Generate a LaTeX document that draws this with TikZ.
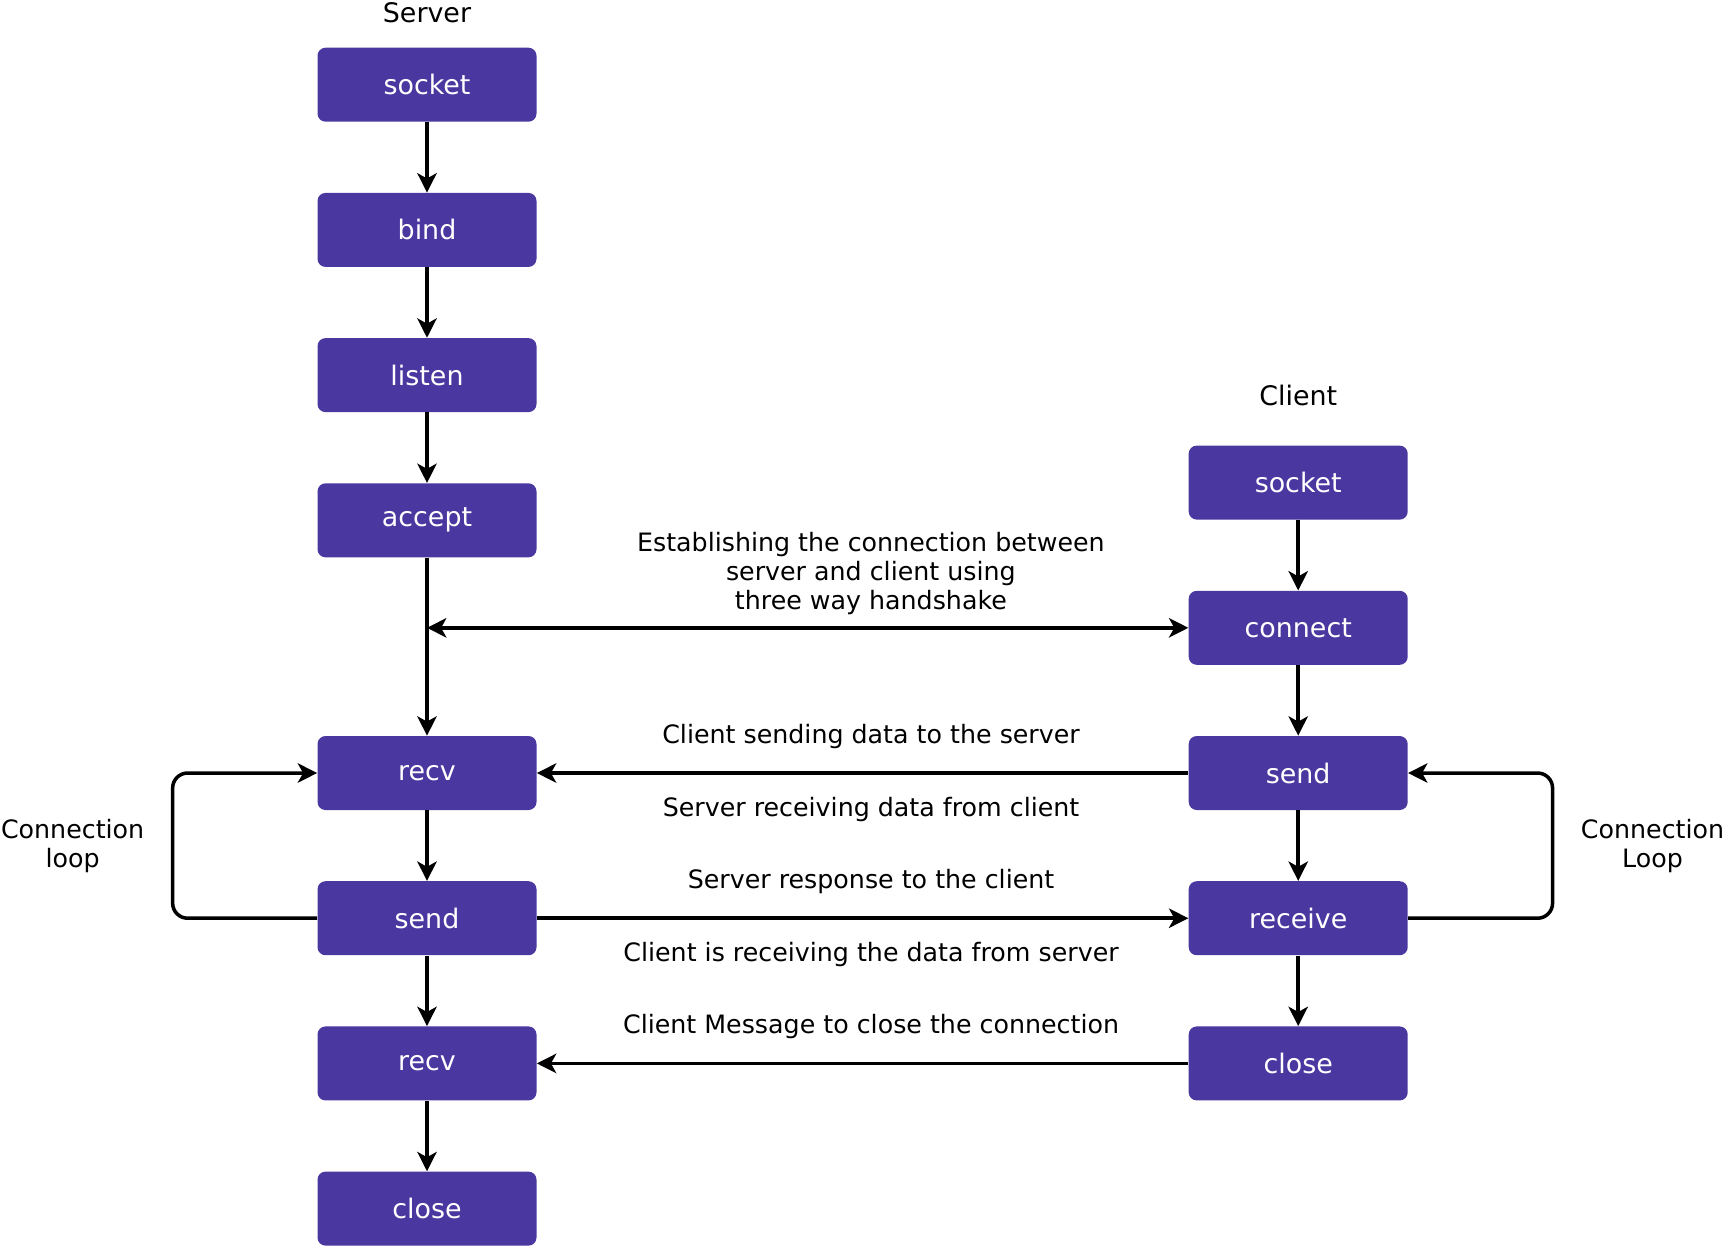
\documentclass[tikz,border=0pt]{standalone}
\usepackage{fontspec}
\setmainfont{DejaVu Sans}
\usetikzlibrary{positioning, arrows.meta, calc}
\definecolor{boxpurple}{RGB}{74,56,160}
\tikzset{
    base/.style={draw=none, fill=boxpurple, rectangle, rounded corners=0.16cm, minimum width=4.38cm, minimum height=1.48cm, inner sep=2pt, align=center, text=white, font=\fontsize{15.3}{18}\selectfont},
    head/.style={inner sep=0pt, font=\fontsize{15.3}{18}\selectfont},
    lbl/.style={inner sep=0pt, align=center, font=\fontsize{14.4}{16.4}\selectfont},
    arrow/.style={line width=2pt, -{Stealth[length=11pt, width=11pt, inset=3pt]}},
    biarrow/.style={line width=2pt, {Stealth[length=11pt, width=11pt, inset=3pt]}-{Stealth[length=11pt, width=11pt, inset=3pt]}}
}

\begin{document}
\begin{tikzpicture}[node distance=1.41cm]
\useasboundingbox (0,0) rectangle (34.5,-24.94);
% server side
\node[base] (ssocket) at (8.54,-1.694) {socket};
\node[base, below=of ssocket] (sbind) {bind};
\node[base, below=of sbind] (slisten) {listen};
\node[base, below=of slisten] (saccept) {accept};
\node[base, below=3.56cm of saccept] (srecv) {recv};
\node[base, below=of srecv] (ssend) {send};
\node[base, below=of ssend] (srecvtwo) {recv};
\node[base, below=of srecvtwo] (sclose) {close};
\node[head, above=0.49cm of ssocket] (srvlabel) {Server};
% client side
\node[base, right=13.03cm of srecv] (csend) {send};
\node[base, above=of csend] (cconnect) {connect};
\node[base, above=of cconnect] (csocket) {socket};
\node[base, below=of csend] (creceive) {receive};
\node[base, below=of creceive] (cclose) {close};
\node[head, above=0.78cm of csocket] (clilabel) {Client};
% vertical flow
\draw[arrow] (ssocket) -- (sbind);
\draw[arrow] (sbind) -- (slisten);
\draw[arrow] (slisten) -- (saccept);
\draw[arrow] (saccept) -- (srecv);
\draw[arrow] (srecv) -- (ssend);
\draw[arrow] (ssend) -- (srecvtwo);
\draw[arrow] (srecvtwo) -- (sclose);
\draw[arrow] (csocket) -- (cconnect);
\draw[arrow] (cconnect) -- (csend);
\draw[arrow] (csend) -- (creceive);
\draw[arrow] (creceive) -- (cclose);
% messages between server and client
\coordinate (hshake) at (saccept.south |- cconnect.west);
\draw[biarrow] (hshake) -- node[lbl, pos=0.583, yshift=1.08cm] (hslabel) {Establishing the connection between\\server and client using\\three way handshake} (cconnect.west);
\draw[arrow] (csend) -- node[lbl, pos=0.487, yshift=0.73cm] (sendlabel) {Client sending data to the server}
    node[lbl, pos=0.487, yshift=-0.73cm] (recvlabel) {Server receiving data from client} (srecv);
\draw[arrow] (ssend) -- node[lbl, pos=0.513, yshift=0.73cm] (resplabel) {Server response to the client}
    node[lbl, pos=0.513, yshift=-0.73cm] (gotlabel) {Client is receiving the data from server} (creceive);
\draw[arrow] (cclose) -- node[lbl, pos=0.487, yshift=0.73cm] (closelabel) {Client Message to close the connection} (srecvtwo);
% connection loops
\draw[arrow, rounded corners=0.3cm] (ssend.west) -- ++(-2.89,0) |- (srecv.west);
\draw[arrow, rounded corners=0.3cm] (creceive.east) -- ++(2.89,0) |- (csend.east);
\node[lbl] (lloop) at ($(srecv.west)!0.5!(ssend.west)+(-4.89,0)$) {Connection\\loop};
\node[lbl] (rloop) at ($(csend.east)!0.5!(creceive.east)+(4.89,0)$) {Connection\\Loop};
\end{tikzpicture}
\end{document}
